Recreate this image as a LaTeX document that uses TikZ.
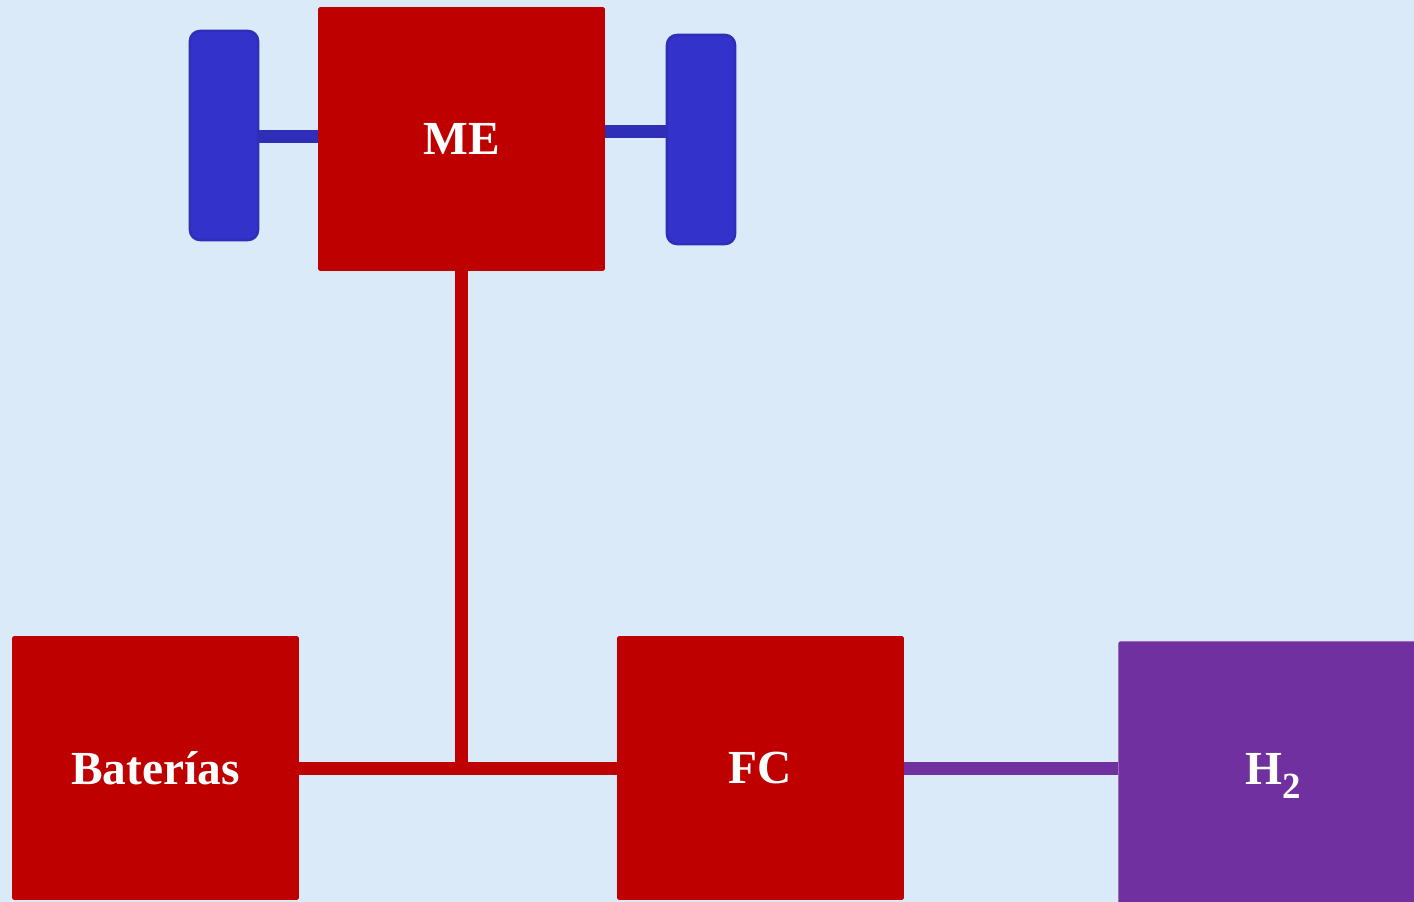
\documentclass[tikz,border=0pt]{standalone}
\usepackage{fontspec}
\setmainfont{Liberation Serif}
\usetikzlibrary{positioning}

\definecolor{fondo}{RGB}{218,234,249}
\definecolor{rojo}{RGB}{191,0,0}
\definecolor{azul}{RGB}{51,51,204}
\definecolor{azulb}{RGB}{46,46,184}
\definecolor{morado}{RGB}{112,48,160}

\tikzset{
	letra/.style={text=white, font=\fontsize{27}{30}\selectfont\bfseries},
	bloque/.style={rectangle, fill=rojo, inner sep=0pt, rounded corners=1pt,
		minimum width=5.74cm, minimum height=5.28cm, letra},
	rueda/.style={rectangle, fill=azul, draw=azulb, line width=1.5pt,
		rounded corners=0.2cm, minimum width=1.36cm, minimum height=4.18cm},
	linea/.style={line width=7.4pt},
}

\begin{document}
\begin{tikzpicture}[x=0.02cm, y=-0.02cm]
		% fondo
		\fill[fondo] (0,0) rectangle (1414,902);
		\useasboundingbox (0,0) rectangle (1414,902);
		\clip (0,0) rectangle (1414,902);
		
		% motor y ruedas
		\node[bloque] (me) at (461.5,139) {ME};
		\node[rueda] (rizq) at (224,135.5) {};
		\node[rueda] (rder) at (701,139.5) {};
		\draw[linea, azulb] ([yshift=-0.03cm]rizq.east) -- ([yshift=-0.03cm]rizq.east -| me.west);
		\draw[linea, azulb] (me.east |- 0,132) -- (rder.west |- 0,132);
		
		% baterias, pila y tanque
		\node[bloque] (bat) at (155.5,768) {Baterías};
		\node[bloque] (fc) at (760.5,768) {FC};
		\node[bloque, fill=morado, anchor=north west, minimum width=6.2cm] (h2) at (1118,641) {};
		\node[letra] (h2t) at (1273,776) {H\raisebox{-0.3em}{\fontsize{21}{24}\selectfont 2}};
		
		% conexiones
		\draw[linea, rojo] (bat.east) -- (fc.west);
		\draw[linea, rojo] (me.south) -- (me.south |- bat.east);
		\draw[linea, morado] (fc.east) -- (fc.east -| h2.west);
	\end{tikzpicture}
\end{document}
